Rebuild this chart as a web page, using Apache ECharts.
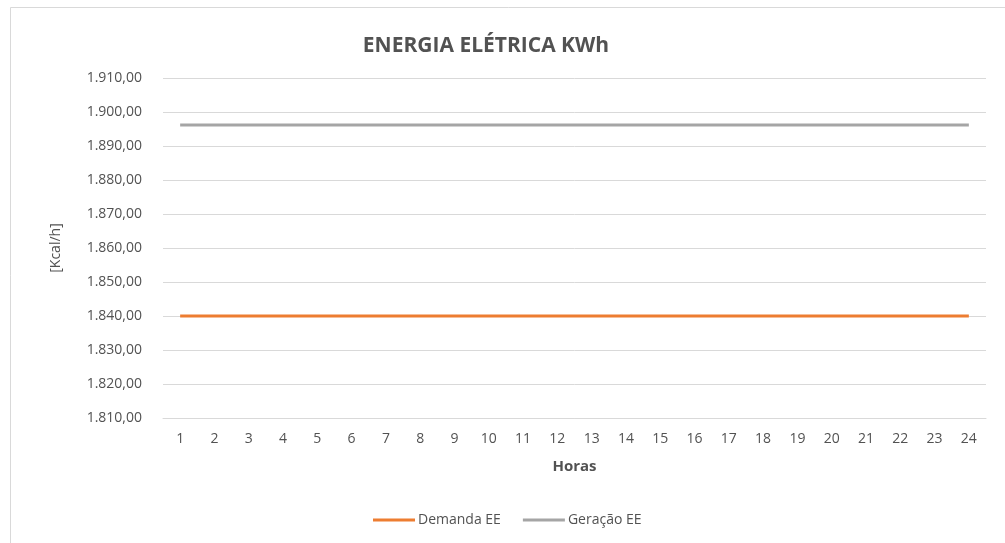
<!DOCTYPE html>
<html><head><meta charset="utf-8">
<script src="https://cdn.jsdelivr.net/npm/echarts@6/dist/echarts.min.js"></script>
<style>html,body{margin:0;padding:0;background:#fff}#c{width:1005px;height:543px}</style>
</head><body><div id="c"></div>
<script>
var hours = ['1','2','3','4','5','6','7','8','9','10','11','12','13','14','15','16','17','18','19','20','21','22','23','24'];
var demandaEE = [1840,1840,1840,1840,1840,1840,1840,1840,1840,1840,1840,1840,1840,1840,1840,1840,1840,1840,1840,1840,1840,1840,1840,1840];
var geracaoEE = [1896.2,1896.2,1896.2,1896.2,1896.2,1896.2,1896.2,1896.2,1896.2,1896.2,1896.2,1896.2,1896.2,1896.2,1896.2,1896.2,1896.2,1896.2,1896.2,1896.2,1896.2,1896.2,1896.2,1896.2];
var seriesNames = ['Demanda EE','Geração EE'];
var FONT = '"Open Sans", "Noto Sans", sans-serif';
var TXT = '#525252';
function fmt(v){
  var s = v.toFixed(2).split('.');
  var i = s[0].replace(/\B(?=(\d{3})+(?!\d))/g, '.');
  return i + ',' + s[1];
}
var chart = echarts.init(document.getElementById('c'), null, {renderer:'canvas'});
chart.setOption({
  animation:false,
  backgroundColor:'#fff',
  graphic:[{type:'rect', shape:{x:10.5,y:7.5,width:1000,height:540}, style:{fill:'none', stroke:'#d9d9d9', lineWidth:1}, silent:true}],
  title:{text:'ENERGIA ELÉTRICA KWh', left:481, top:31, textAlign:'center',
    textStyle:{fontFamily:FONT, fontSize:21, fontWeight:'bold', color:TXT}},
  legend:{data:seriesNames, left:368, top:508, itemWidth:42, itemHeight:3, itemGap:22,
    icon:'rect',
    textStyle:{fontFamily:FONT, fontSize:14, color:TXT, padding:[0,0,0,-2]}},
  grid:{left:163, right:19, top:78, bottom:125, containLabel:false},
  xAxis:{type:'category', data:hours, boundaryGap:true,
    name:'Horas', nameLocation:'middle', nameGap:41,
    nameTextStyle:{fontFamily:FONT, fontSize:15, fontWeight:'bold', color:TXT},
    axisLine:{show:true, lineStyle:{color:'#d9d9d9'}}, axisTick:{show:false},
    axisLabel:{fontFamily:FONT, fontSize:14, color:TXT, margin:14}},
  yAxis:{type:'value', min:1810, max:1910, interval:10,
    name:'[Kcal/h]', nameLocation:'middle', nameGap:100, nameRotate:90,
    nameTextStyle:{fontFamily:FONT, fontSize:14, color:TXT},
    axisLine:{show:false}, axisTick:{show:false},
    axisLabel:{fontFamily:FONT, fontSize:14, color:TXT, margin:21, formatter:fmt},
    splitLine:{lineStyle:{color:'#d9d9d9', width:1}}},
  series:[
    {name:seriesNames[0], type:'line', data:demandaEE, symbol:'none', lineStyle:{color:'#ED7D31', width:3}, itemStyle:{color:'#ED7D31'}},
    {name:seriesNames[1], type:'line', data:geracaoEE, symbol:'none', lineStyle:{color:'#A5A5A5', width:3}, itemStyle:{color:'#A5A5A5'}}
  ]
});
</script></body></html>
